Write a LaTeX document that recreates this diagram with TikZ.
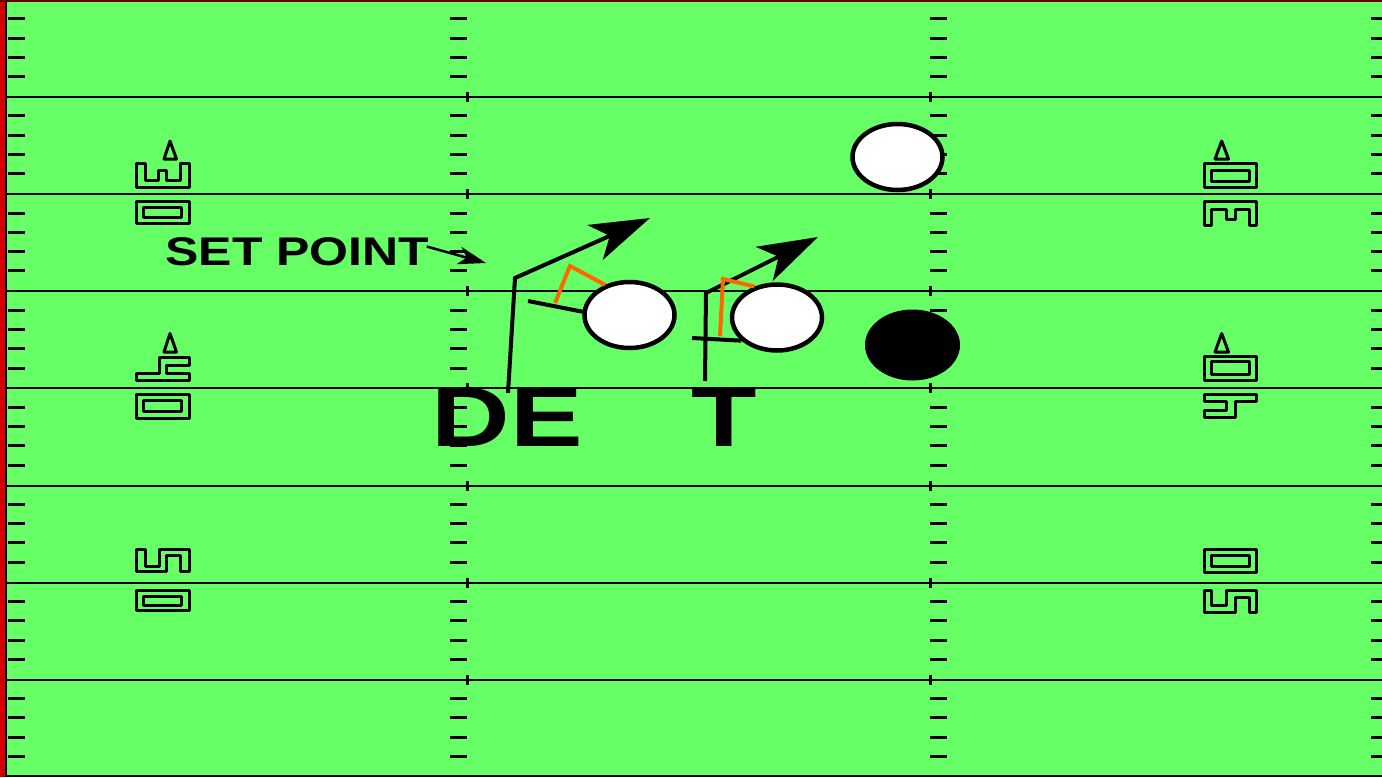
\documentclass[tikz,border=0pt]{standalone}
\usepackage{fontspec}
\setmainfont{Liberation Sans}
\usetikzlibrary{arrows.meta,shapes.geometric}
\definecolor{fgreen}{HTML}{66FF66}
\definecolor{fred}{HTML}{D40000}
\definecolor{dred}{HTML}{600000}
\definecolor{forange}{HTML}{FF6600}
\begin{document}
\begin{tikzpicture}[x=1pt,y=-1pt,
  yardline/.style={line width=2pt},
  hash/.style={line width=3pt},
  numline/.style={line width=3pt,line join=round},
  player/.style={ellipse,draw,line width=4.5pt,fill=white,minimum width=90pt,minimum height=66pt,inner sep=0pt},
  offplayer/.style={ellipse,draw,line width=4pt,fill=black,minimum width=91pt,minimum height=67pt,inner sep=0pt},
  route/.style={line width=4pt},
  block/.style={line width=4pt,forange},
  bigtip/.style={-{Stealth[length=60pt,width=38pt,inset=16pt]}},
  lbl/.style={font=\bfseries,inner sep=0pt}
]
\useasboundingbox (0,0) rectangle (1382,777);
\fill[fgreen] (0,0) rectangle (1382,777);
\fill[fred] (0,0) rectangle (5,777);
\draw[line width=2.5pt] (6,0) -- (6,777);
\draw[dred,line width=2.5pt] (0,1) -- (1382,1);
\draw[line width=2pt] (6,776) -- (1382,776);
% yard lines
\foreach \i in {1,...,7}{
  \pgfmathsetmacro{\yy}{\i*97.1}
  \draw[yardline] (7,\yy) -- (1382,\yy);
  \draw[hash] (467,\yy-5) -- (467,\yy+5);
  \draw[hash] (930,\yy-5) -- (930,\yy+5);
}
% hash marks
\foreach \i in {0,...,7}{
  \foreach \j in {1,...,4}{
    \pgfmathsetmacro{\yy}{\i*97.1+\j*19.3-0.5}
    \draw[hash] (8,\yy) -- (25,\yy);
    \draw[hash] (450,\yy) -- (467,\yy);
    \draw[hash] (930,\yy) -- (947,\yy);
    \draw[hash] (1371,\yy) -- (1382,\yy);
  }
}
% ---- left yard numbers
\draw[numline] (170,141) -- (176.5,159) -- (164,159) -- cycle;
\draw[numline] (136,163) -- (136,187) -- (189,187) -- (189,163) -- (180,163) -- (180,180) -- (166.7,180) -- (166.7,170) -- (158.3,170) -- (158.3,180) -- (145,180) -- (145,163) -- cycle;
\draw[numline] (136,201) rectangle (189,223);
\draw[numline] (143,207) rectangle (181,217);
\draw[numline] (170,333.5) -- (176.5,352) -- (164,352) -- cycle;
\draw[numline] (136,380) -- (189,380) -- (189,373.3) -- (166.7,373.3) -- (166.7,365) -- (189,365) -- (189,357) -- (159.3,357) -- (159.3,373.3) -- (136,373.3) -- cycle;
\draw[numline] (136,394) rectangle (189,418);
\draw[numline] (143,400) rectangle (181,411.7);
\draw[numline] (136,549.3) -- (136,571.7) -- (166.7,571.7) -- (166.7,555) -- (180,555) -- (180,571.7) -- (189,571.7) -- (189,549.3) -- (159.3,549.3) -- (159.3,566) -- (145,566) -- (145,549.3) -- cycle;
\draw[numline] (136,590) rectangle (189,610.7);
\draw[numline] (143,596) rectangle (181,605);
% ---- right yard numbers
\draw[numline] (1221.7,141) -- (1228.5,159) -- (1215,159) -- cycle;
\draw[numline] (1204,163) rectangle (1256.7,187);
\draw[numline] (1211.7,170) rectangle (1249.3,181.7);
\draw[numline] (1204,201.7) -- (1256.7,201.7) -- (1256.7,225) -- (1249.3,225) -- (1249.3,209) -- (1235,209) -- (1235,219.3) -- (1226.7,219.3) -- (1226.7,209) -- (1211.7,209) -- (1211.7,225) -- (1204,225) -- cycle;
\draw[numline] (1221.7,333.5) -- (1228.5,352) -- (1215,352) -- cycle;
\draw[numline] (1204,356.7) rectangle (1256.7,380.7);
\draw[numline] (1211.7,361.7) rectangle (1249.3,374.3);
\draw[numline] (1204,394) -- (1256.7,394) -- (1256.7,401.7) -- (1235,401.7) -- (1235,417.3) -- (1204,417.3) -- (1204,410) -- (1226.7,410) -- (1226.7,401.7) -- (1204,401.7) -- cycle;
\draw[numline] (1204,549.3) rectangle (1256.7,572.3);
\draw[numline] (1211.7,555) rectangle (1249.3,566.7);
\draw[numline] (1204,590) -- (1211.7,590) -- (1211.7,605) -- (1226.7,605) -- (1226.7,590) -- (1256.7,590) -- (1256.7,612.7) -- (1249.3,612.7) -- (1249.3,597.3) -- (1235,597.3) -- (1235,612.7) -- (1204,612.7) -- cycle;
% ---- players
\node[player] (top) at (897.5,157) {};
\node[player] (de) at (629.5,315) {};
\node[player] (tk) at (777,317.5) {};
\node[offplayer] (off) at (912.5,345) {};
% ---- DE route
\coordinate (deA) at (508,393);
\coordinate (deB) at (515,278);
\coordinate (deT) at (650,218);
\draw[route,bigtip,line join=miter] (deA) -- (deB) -- (deT);
\coordinate (deS) at (528,301);
\draw[route] (deS) -- (de.176);
\coordinate (deO1) at (555,303);
\coordinate (deO2) at (570,266);
\draw[block,line join=miter] (deO1) -- (deO2) -- (de.129);
% ---- T route
\coordinate (tA) at (705,381);
\coordinate (tB) at (706,293);
\coordinate (tT) at (818,237);
\draw[route,bigtip,line join=miter] (tA) -- (tB) -- (tT);
\coordinate (tS) at (692,338);
\draw[route] (tS) -- (tk.213);
\coordinate (tO1) at (720,336);
\coordinate (tO2) at (723,279);
\draw[block,line join=miter] (tO1) -- (tO2) -- (tk.126);
% ---- labels
\node[lbl,font=\bfseries\fontsize{40}{40}\selectfont,xscale=1.25] (sp) at (297.5,251.5) {SET POINT};
\coordinate (spT) at (486,263);
\draw[line width=2.5pt,-{Stealth[length=28pt,width=18pt,inset=8pt]}] (sp.east) ++(-3,-5) -- (spT);
\node[lbl,font=\bfseries\fontsize{85}{85}\selectfont,xscale=1.28] (DE) at (507.5,417.5) {DE};
\node[lbl,font=\bfseries\fontsize{85}{85}\selectfont,xscale=1.26] (T) at (724,417.5) {T};
\end{tikzpicture}
\end{document}
